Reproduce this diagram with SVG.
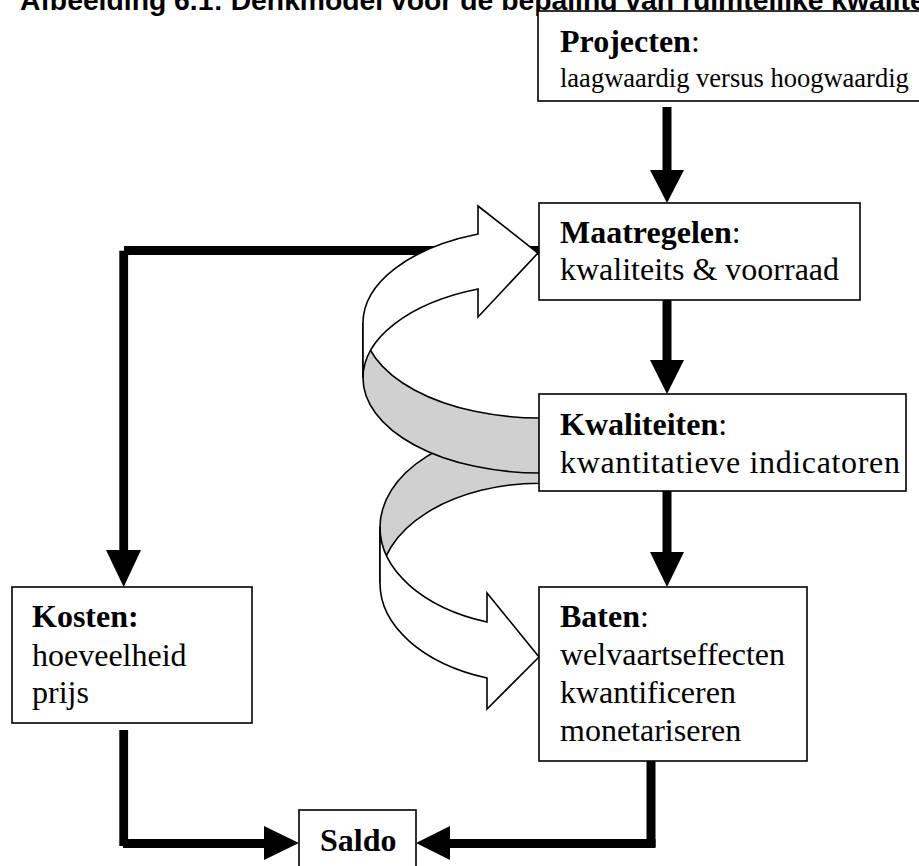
<svg xmlns="http://www.w3.org/2000/svg" width="919" height="866" viewBox="0 0 919 866">
  <style>
    .box { fill: #ffffff; stroke: #000000; stroke-width: 1.6; }
    .lbl { font-family: "Liberation Serif", "Times New Roman", serif; font-size: 32px; fill: #000000; }
    .b { font-weight: bold; }
    .small { font-size: 26.5px; }
    .wire { fill: #000000; stroke: none; }
    .front { fill: #ffffff; stroke: #000000; stroke-width: 1.6; stroke-linejoin: miter; }
    .back { fill: #d0d0d0; stroke: #000000; stroke-width: 1.6; }
    .title { font-family: "Liberation Sans", Arial, sans-serif; font-weight: bold; font-size: 28.3px; fill: #000000; }
  </style>

  <!-- figure caption, clipped at the top edge -->
  <text class="title" x="20" y="10">Afbeelding 6.1: Denkmodel voor de bepaling van ruimtelijke kwaliteit</text>

  <!-- thick flow connectors -->
  <g id="connectors">
    <!-- Projecten -> Maatregelen -->
    <rect class="wire" x="662.5" y="107" width="9" height="65"/>
    <polygon class="wire" points="650,170 684,170 667,203"/>
    <!-- Maatregelen -> Kwaliteiten -->
    <rect class="wire" x="662.5" y="300" width="9" height="62"/>
    <polygon class="wire" points="650,360 684,360 667,394"/>
    <!-- Kwaliteiten -> Baten -->
    <rect class="wire" x="662.5" y="491" width="9" height="63"/>
    <polygon class="wire" points="650,552 684,552 667,587"/>
    <!-- Maatregelen -> Kosten -->
    <rect class="wire" x="124" y="246" width="415" height="9"/>
    <rect class="wire" x="119.3" y="250.7" width="8.8" height="302"/>
    <polygon class="wire" points="106,550 141,550 123.7,587"/>
    <!-- Kosten -> Saldo -->
    <rect class="wire" x="119.3" y="730" width="8.8" height="116"/>
    <rect class="wire" x="123" y="839" width="145" height="9"/>
    <polygon class="wire" points="264,826 264,860 299,843"/>
    <!-- Baten -> Saldo -->
    <rect class="wire" x="646.5" y="761" width="9" height="86"/>
    <rect class="wire" x="446" y="839" width="209.5" height="9"/>
    <polygon class="wire" points="450,826 450,860 416,843"/>
  </g>

  <!-- curved ribbon arrows: back face grey, front face white -->
  <g id="ribbon-down">
    <path class="back" d="M 380,527.3 A 160 100.3 0 0 1 540,427 L 540,483.3 A 160 100.3 0 0 0 380,583.3 Z"/>
    <path class="front" d="M 487,622 L 487,593 L 539,657 L 487,709 L 487,678 A 160 100.3 0 0 1 380,583.3 L 380,527.3 A 160 100.3 0 0 0 487,622 Z"/>
  </g>
  <g id="ribbon-up">
    <path class="back" d="M 363,323 A 177 95 0 0 0 540,418 L 540,473 A 177 95 0 0 1 363,378 Z"/>
    <path class="front" d="M 478,234 L 478,206 L 538,253 L 478,317 L 478,289 A 177 95 0 0 0 363,378 L 363,323 A 177 95 0 0 1 478,234 Z"/>
  </g>

  <g id="projecten">
    <rect class="box" x="538" y="11" width="392" height="90"/>
    <text class="lbl" x="560" y="52"><tspan class="b">Projecten</tspan>:</text>
    <text class="lbl small" x="560" y="87">laagwaardig versus hoogwaardig</text>
  </g>

  <g id="maatregelen">
    <rect class="box" x="539" y="203" width="321" height="97"/>
    <text class="lbl" x="560" y="243"><tspan class="b">Maatregelen</tspan>:</text>
    <text class="lbl" x="560" y="280">kwaliteits &amp; voorraad</text>
  </g>

  <g id="kwaliteiten">
    <rect class="box" x="539" y="394" width="367" height="97"/>
    <text class="lbl" x="560" y="435"><tspan class="b">Kwaliteiten</tspan>:</text>
    <text class="lbl" x="560" y="473" letter-spacing="0.65">kwantitatieve indicatoren</text>
  </g>

  <g id="kosten">
    <rect class="box" x="12" y="587" width="240" height="136"/>
    <text class="lbl b" x="32" y="627">Kosten:</text>
    <text class="lbl" x="32" y="666">hoeveelheid</text>
    <text class="lbl" x="32" y="703">prijs</text>
  </g>

  <g id="baten">
    <rect class="box" x="539" y="587" width="268" height="174"/>
    <text class="lbl" x="560" y="627"><tspan class="b">Baten</tspan>:</text>
    <text class="lbl" x="560" y="665">welvaartseffecten</text>
    <text class="lbl" x="560" y="703">kwantificeren</text>
    <text class="lbl" x="560" y="741">monetariseren</text>
  </g>

  <g id="saldo">
    <rect class="box" x="299" y="810" width="117" height="70"/>
    <text class="lbl b" x="320" y="851">Saldo</text>
  </g>
</svg>
